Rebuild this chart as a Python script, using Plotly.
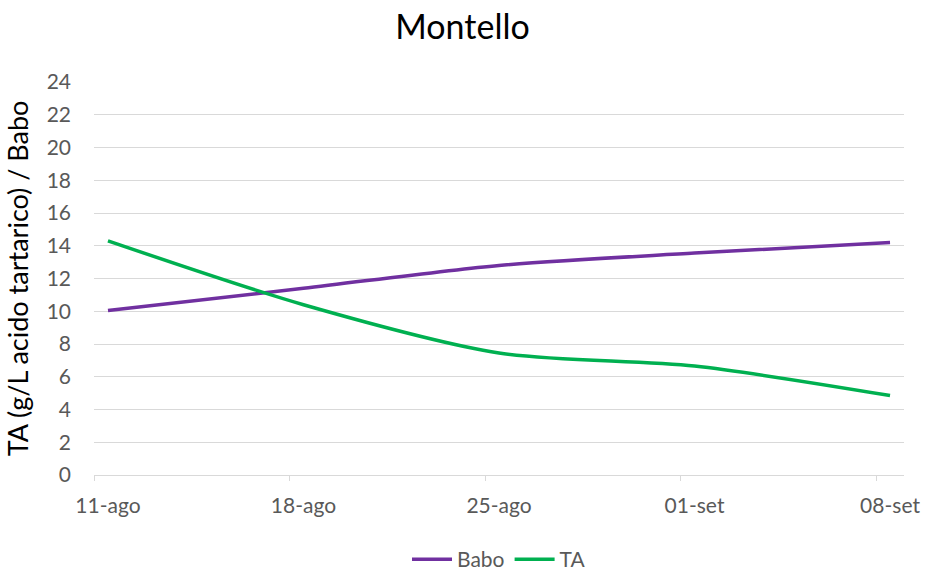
import plotly.graph_objects as go

dates = ["2023-08-11", "2023-08-18", "2023-08-25", "2023-09-01", "2023-09-08"]
tick_labels = ["11-ago", "18-ago", "25-ago", "01-set", "08-set"]
babo = [10.05, 11.4, 12.8, 13.55, 14.2]
ta = [14.3, 10.4, 7.45, 6.65, 4.85]

FONT = "Lato, 'Open Sans', sans-serif"
fig = go.Figure()
fig.add_trace(go.Scatter(x=dates, y=babo, name="Babo", mode="lines",
                         line=dict(color="#7030A0", width=3.5, shape="spline", smoothing=0.8)))
fig.add_trace(go.Scatter(x=dates, y=ta, name="TA", mode="lines",
                         line=dict(color="#00B050", width=3.5, shape="spline", smoothing=0.8)))

fig.update_layout(
    width=925, height=571,
    margin=dict(l=94, r=21, t=82, b=96, autoexpand=False),
    paper_bgcolor="white", plot_bgcolor="white",
    font=dict(family=FONT, color="#595959", size=21),
    title=dict(text="Montello", x=0.5, xanchor="center", y=0.952, yanchor="middle",
               font=dict(family=FONT, size=34, color="#000000")),
    legend=dict(orientation="h", x=0.5, xanchor="center", yref="container", y=0.02, yanchor="middle",
                font=dict(size=21, color="#595959"), itemwidth=40),
    showlegend=True,
)
fig.update_xaxes(
    type="date", automargin=False,
    range=["2023-08-10 12:00", "2023-09-08 12:00"],
    tickvals=dates, ticktext=tick_labels,
    showgrid=False, zeroline=False,
    showline=True, linecolor="#d9d9d9", linewidth=1,
    ticks="", ticklabelstandoff=12,
    minor=dict(ticks="outside", tick0="2023-08-10 12:00", dtick=7 * 86400000,
               ticklen=5, tickcolor="#d9d9d9", showgrid=False),
    tickfont=dict(size=21, color="#595959"),
)
fig.update_yaxes(
    range=[0, 24], tickvals=list(range(0, 25, 2)), automargin=False,
    showgrid=True, gridcolor="#d9d9d9", gridwidth=1,
    zeroline=False, showline=False, ticks="",
    ticklabelstandoff=22,
    title=dict(text="TA (g/L acido tartarico) / Babo", font=dict(size=27, color="#000000"), standoff=10),
    tickfont=dict(size=21, color="#595959"),
)

fig.write_html("out.html")
